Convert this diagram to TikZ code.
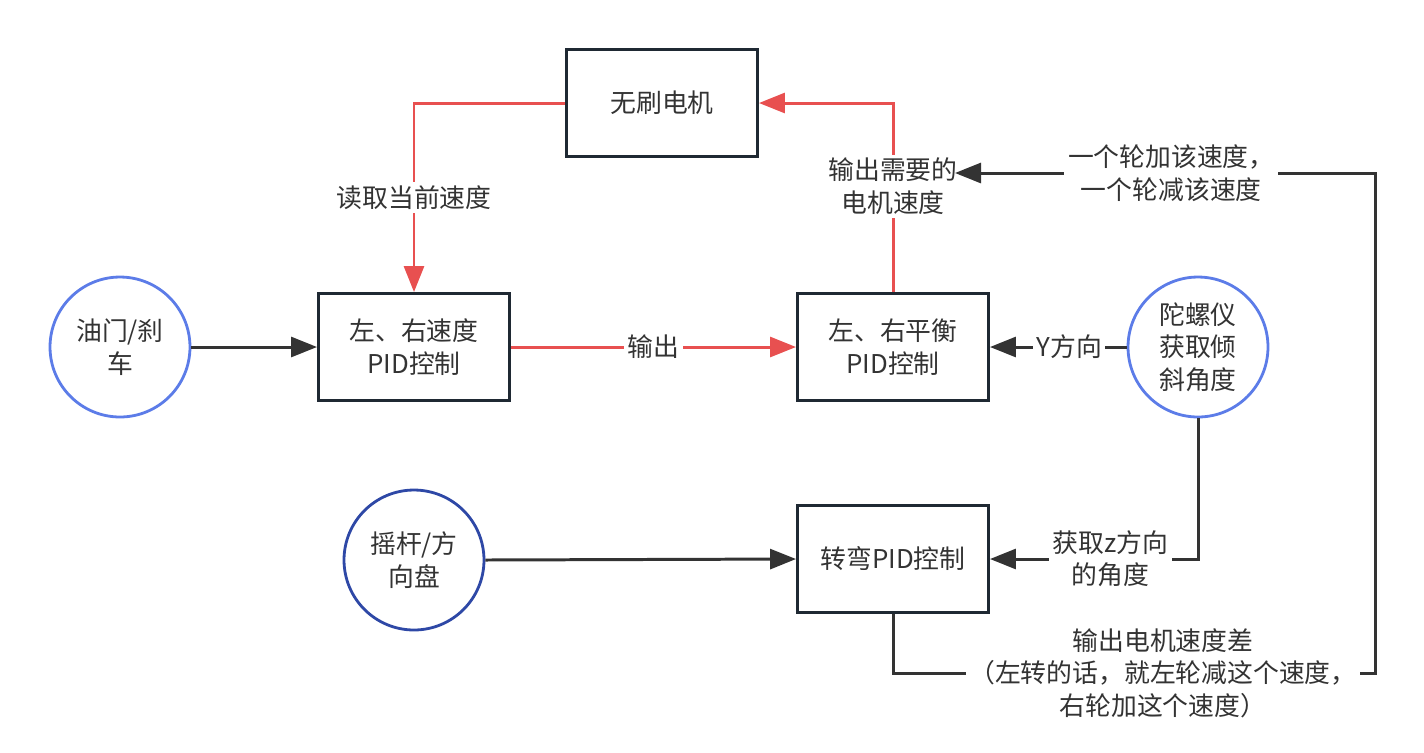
\documentclass[tikz,border=0pt]{standalone}
\usepackage{fontspec}
\setmainfont{Noto Sans CJK SC}
\usetikzlibrary{arrows.meta}
\definecolor{redline}{RGB}{232,80,80}
\definecolor{darkline}{RGB}{51,51,51}
\definecolor{boxline}{RGB}{31,41,51}
\definecolor{lightblue}{RGB}{92,124,232}
\definecolor{deepblue}{RGB}{46,72,166}
\definecolor{txt}{RGB}{51,51,51}
\tikzset{
  block/.style={draw=boxline, line width=1.7pt, minimum width=3.82cm, minimum height=2.14cm, align=center, text=txt},
  src/.style={circle, draw=lightblue, line width=1.6pt, minimum size=2.8cm, align=center, text=txt},
  wire/.style={darkline, line width=1.7pt, -{Triangle[length=0.52cm,width=0.4cm]}},
  redwire/.style={redline, line width=1.7pt, -{Triangle[length=0.52cm,width=0.4cm]}},
  lbl/.style={fill=white, inner sep=2pt, align=center, text=txt}
}
\begin{document}
\begin{tikzpicture}[x=0.02cm, y=-0.02cm, font=\fontsize{14.7}{18.4}\selectfont]
\useasboundingbox (0,0) rectangle (1424,752);
\node[block] (motor) at (662,103) {无刷电机};
\node[block] (spdpid) at (414,347) {左、右速度\\PID控制};
\node[block] (balpid) at (893,347) {左、右平衡\\PID控制};
\node[block] (turnpid) at (893,559) {转弯PID控制};
\node[src] (throttle) at (120,347) {油门/刹\\车};
\node[src] (gyro) at (1198,347) {陀螺仪\\获取倾\\斜角度};
\node[src, draw=deepblue] (wheel) at (414,560) {摇杆/方\\向盘};
\coordinate (diffin) at (955,173);
\coordinate (edgeB) at (1375,673);
\coordinate (edgeT) at (1375,173);

\draw[redwire] (motor.west) -| (spdpid.north) node[lbl, pos=0.75] (readlbl) {读取当前速度};
\draw[redwire] (spdpid.east) -- (balpid.west) node[lbl, midway] (outlbl) {输出};
\draw[redwire] (balpid.north) |- (motor.east) node[lbl, pos=0.28] (needlbl) {输出需要的\\电机速度};
\draw[wire] (throttle.east) -- (spdpid.west);
\draw[wire] (gyro.west) -- (balpid.east) node[lbl, pos=0.42] (ylbl) {Y方向};
\draw[wire] (gyro.south) |- (turnpid.east) node[lbl, pos=0.71] (zlbl) {获取z方向\\的角度};
\draw[wire] (wheel.east) -- (turnpid.west);
\draw[wire] (turnpid.south) |- (edgeB) node[lbl, pos=0.78] (difflbl) {输出电机速度差\\（左转的话，就左轮减这个速度，\\右轮加这个速度）}
  -- (edgeT) -- (diffin) node[lbl, pos=0.485] (pmlbl) {一个轮加该速度，\\一个轮减该速度};
\end{tikzpicture}
\end{document}
